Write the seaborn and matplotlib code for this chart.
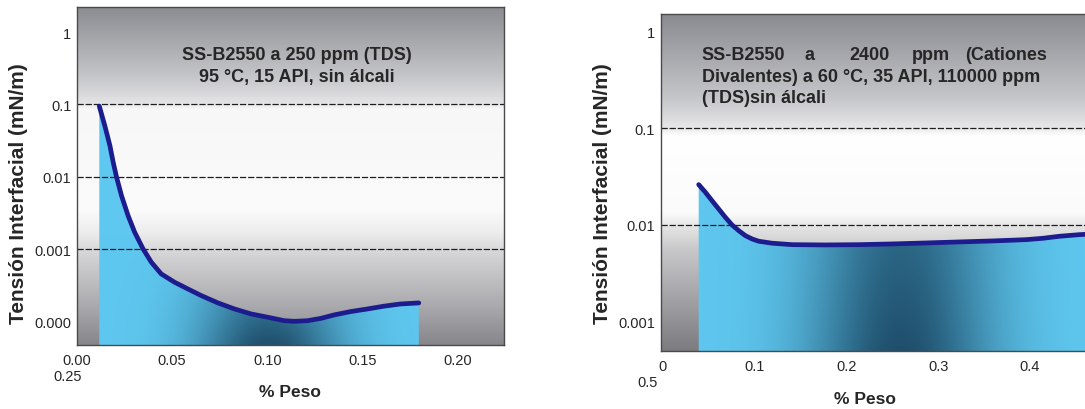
import numpy as np
import matplotlib
matplotlib.use("Agg")
import matplotlib.pyplot as plt
from matplotlib.colors import LinearSegmentedColormap, to_rgb
import seaborn as sns

# --- data: interfacial tension vs. surfactant weight percent ---
# Panel A: SS-B2550 at 250 ppm (TDS), 95 °C, 15 API
peso_a = [0.0117, 0.0146, 0.0173, 0.0190, 0.0208, 0.0234, 0.0269, 0.0303,
          0.0347, 0.0391, 0.0443, 0.0513, 0.0583, 0.0653, 0.0741, 0.0828,
          0.0915, 0.1003, 0.1090, 0.1142, 0.1212, 0.1282, 0.1352, 0.1439,
          0.1527, 0.1614, 0.1701, 0.1797]
tension_a = [0.095, 0.051, 0.027, 0.016, 0.0099, 0.0055, 0.0029, 0.00173,
             0.00102, 0.000665, 0.000459, 0.000353, 0.000285, 0.000231,
             0.000183, 0.000151, 0.000129, 0.000116, 0.000104, 0.000102,
             0.000104, 0.000112, 0.000125, 0.000139, 0.000151, 0.000165,
             0.000177, 0.000183]

# Panel B: SS-B2550 at 2400 ppm divalent cations, 60 °C, 35 API
peso_b = [0.0393, 0.0465, 0.0538, 0.0611, 0.0683, 0.0756, 0.0829, 0.0901,
          0.0974, 0.1047, 0.1192, 0.1410, 0.1774, 0.2137, 0.2500, 0.2865,
          0.3228, 0.3590, 0.3955, 0.4137, 0.4318, 0.4537, 0.4600]
tension_b = [0.0261, 0.0218, 0.0178, 0.0146, 0.0120, 0.0100, 0.00873,
             0.00776, 0.00717, 0.00679, 0.00648, 0.00626, 0.00622, 0.00626,
             0.00637, 0.00652, 0.00668, 0.00684, 0.00705, 0.00728, 0.00764,
             0.00794, 0.00800]

yticks_a = [1, 0.1, 0.01, 0.001, 0.0001]
yticklabels_a = ["1", "0.1", "0.01", "0.001", "0.000"]
xticks_a = [0.0, 0.05, 0.10, 0.15, 0.20]
xticklabels_a = ["0.00", "0.05", "0.10", "0.15", "0.20"]
grid_a = [0.1, 0.01, 0.001]

yticks_b = [1, 0.1, 0.01, 0.001]
yticklabels_b = ["1", "0.1", "0.01", "0.001"]
xticks_b = [0.0, 0.1, 0.2, 0.3, 0.4]
xticklabels_b = ["0", "0.1", "0.2", "0.3", "0.4"]
grid_b = [0.1, 0.01]

ylabel = "Tensión Interfacial (mN/m)"
xlabel = "% Peso"
note_a = ["SS-B2550 a 250 ppm (TDS)", "95 °C, 15 API, sin álcali"]
note_b_words = ["SS-B2550", "a", "2400", "ppm", "(Cationes"]
note_b_lines = ["Divalentes) a 60 °C, 35 API, 110000 ppm", "(TDS)sin álcali"]

sns.set_style("white")
plt.rcParams["font.family"] = ["Liberation Sans", "DejaVu Sans"]

LINE = "#1c1c8e"
LIGHT = np.array(to_rgb("#5fc8f0"))
DARK = np.array(to_rgb("#1f4f6c"))
TXT = "#262626"


def background(ax, stops):
    cmap = LinearSegmentedColormap.from_list("bg", stops)
    v = np.linspace(0, 1, 500).reshape(-1, 1)
    ax.imshow(v, cmap=cmap, origin="lower", extent=[0, 1, 0, 1],
              transform=ax.transAxes, aspect="auto", zorder=0,
              interpolation="bilinear")


def shaded_area(ax, x, y, ybottom, center, sigma, vmix):
    fb = ax.fill_between(x, y, ybottom, facecolor="none", edgecolor="none")
    u = np.linspace(0, 1, 400)
    v = np.linspace(0, 1, 400)
    U, V = np.meshgrid(u, v)
    w = np.exp(-((U - center) / sigma) ** 2) * vmix(V)
    rgb = LIGHT * (1 - w[..., None]) + DARK * w[..., None]
    im = ax.imshow(rgb, origin="lower", extent=[0, 1, 0, 1],
                   transform=ax.transAxes, aspect="auto", zorder=1,
                   interpolation="bilinear")
    im.set_clip_path(fb.get_paths()[0], ax.transData)


fig = plt.figure(figsize=(10.85, 4.10), dpi=100)
ax1 = fig.add_axes([0.071, 0.156, 0.3935, 0.824])
ax2 = fig.add_axes([0.609, 0.1415, 0.425, 0.8215])

panels = [
    dict(ax=ax1, x=peso_a, y=tension_a, xlim=(0.0, 0.2245), ylim=(4.8e-5, 2.2),
         xt=xticks_a, xtl=xticklabels_a, yt=yticks_a, ytl=yticklabels_a,
         grid=grid_a,
         stops=[(0.0, "#86868b"), (0.12, "#acacb0"), (0.26, "#d2d2d4"),
                (0.33, "#ececec"), (0.40, "#fbfbfb"), (0.70, "#f7f7f7"),
                (0.72, "#e2e2e4"), (0.80, "#c4c5c8"), (1.0, "#8b8d92")],
         center=0.45, sigma=0.17,
         vmix=lambda V: np.clip(1 - V / 0.32, 0, 1) ** 0.8,
         ylab=(-0.138, 0.45), xlab=(0.499, -0.139), extra=("0.25", -0.023, -0.092)),
    dict(ax=ax2, x=peso_b, y=tension_b, xlim=(-0.002, 0.5), ylim=(5e-4, 1.5),
         xt=xticks_b, xtl=xticklabels_b, yt=yticks_b, ytl=yticklabels_b,
         grid=grid_b,
         stops=[(0.0, "#7c7c80"), (0.15, "#a2a2a6"), (0.30, "#c8c8ca"),
                (0.37, "#e6e6e6"), (0.41, "#fbfbfb"), (0.64, "#ffffff"),
                (0.665, "#e6e6e8"), (0.75, "#c6c7ca"), (1.0, "#898b91")],
         center=0.52, sigma=0.20,
         vmix=lambda V: 0.8 + 0.2 * np.clip(1 - V / 0.33, 0, 1),
         ylab=(-0.126, 0.469), xlab=(0.4425, -0.1424), extra=("0.5", -0.028, -0.092)),
]

for p in panels:
    ax = p["ax"]
    ax.set_yscale("log")
    background(ax, p["stops"])
    shaded_area(ax, p["x"], p["y"], p["ylim"][0], p["center"], p["sigma"], p["vmix"])
    for g in p["grid"]:
        ax.axhline(g, color="#1e1e1e", lw=0.9, ls=(0, (5, 1.5)), zorder=2)
    sns.lineplot(x=p["x"], y=p["y"], ax=ax, color=LINE, linewidth=3.4,
                 sort=False, estimator=None, zorder=3)
    ax.set_xlim(*p["xlim"])
    ax.set_ylim(*p["ylim"])
    ax.set_xticks(p["xt"])
    ax.set_xticklabels(p["xtl"])
    ax.set_yticks(p["yt"])
    ax.set_yticklabels(p["ytl"])
    ax.yaxis.set_minor_locator(matplotlib.ticker.NullLocator())
    ax.tick_params(axis="both", length=0, labelsize=10.5, labelcolor=TXT)
    ax.tick_params(axis="x", pad=6)
    ax.tick_params(axis="y", pad=4)
    ax.set_xlabel("")
    ax.set_ylabel("")
    for s in ax.spines.values():
        s.set_color("#4a4a4a")
        s.set_linewidth(1.0)
    ax.text(*p["ylab"], ylabel, rotation=90, ha="center", va="center",
            transform=ax.transAxes, fontsize=15, fontweight="bold", color=TXT)
    ax.text(*p["xlab"], xlabel, ha="center", va="center",
            transform=ax.transAxes, fontsize=12.5, fontweight="bold", color=TXT)
    label, ex, ey = p["extra"]
    ax.text(ex, ey, label, ha="center", va="center", transform=ax.transAxes,
            fontsize=10.5, color=TXT)

# panel annotations
ax1.text(0.515, 0.861, note_a[0], ha="center", va="center", transform=ax1.transAxes,
         fontsize=13, fontweight="bold", color=TXT, zorder=4)
ax1.text(0.515, 0.796, note_a[1], ha="center", va="center", transform=ax1.transAxes,
         fontsize=13, fontweight="bold", color=TXT, zorder=4)

word_x = [0.0889, 0.3124, 0.41, 0.5445, 0.659]
for wx, word in zip(word_x, note_b_words):
    ax2.text(wx, 0.881, word, ha="left", va="center", transform=ax2.transAxes,
             fontsize=13, fontweight="bold", color=TXT, zorder=4)
for ly, line in zip([0.816, 0.754], note_b_lines):
    ax2.text(0.0889, ly, line, ha="left", va="center", transform=ax2.transAxes,
             fontsize=13, fontweight="bold", color=TXT, zorder=4)

fig.savefig("out.png", dpi=100)
